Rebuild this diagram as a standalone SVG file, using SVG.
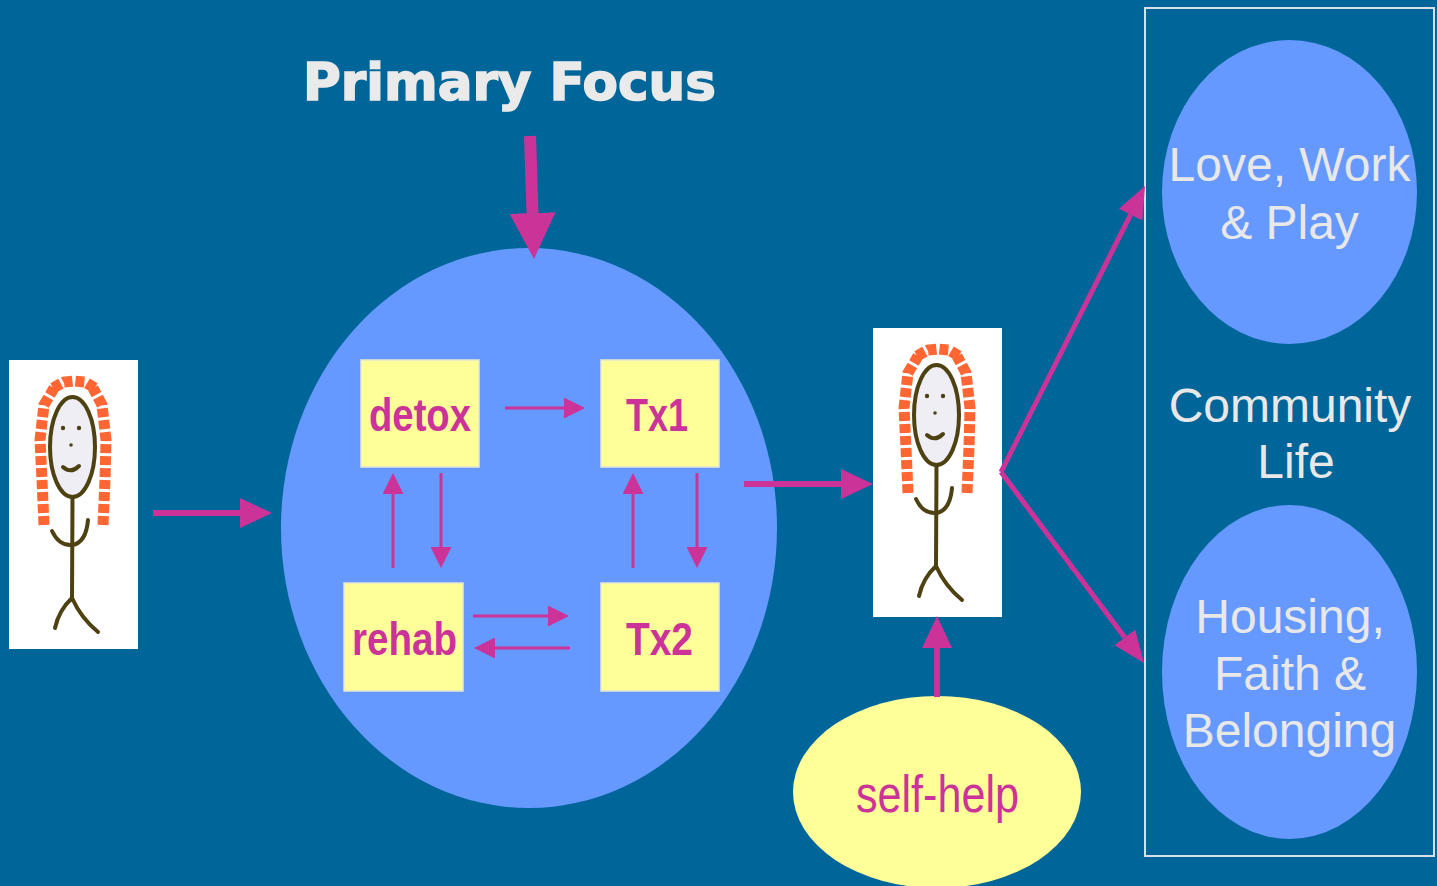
<svg xmlns="http://www.w3.org/2000/svg" xmlns:xlink="http://www.w3.org/1999/xlink" width="1437" height="886" viewBox="0 0 1437 886">
<style>
.conn{stroke:#CC3399;fill:none}
.thin{stroke-width:3}
.thick{stroke-width:6}
.box{fill:#FFFF99;stroke:#E6E6D0;stroke-width:1.5}
.boxtxt{font-family:"Liberation Sans",Arial,sans-serif;font-weight:bold;font-size:47px;fill:#CC3399}
.lt{font-family:"Liberation Sans",Arial,sans-serif;font-size:48px;fill:#E8E8E8;text-anchor:middle}
.ink{stroke:#4F4212;stroke-width:4;fill:none;stroke-linecap:round;stroke-linejoin:round}
.hair{stroke:#FF6633;stroke-width:11;fill:none;stroke-dasharray:9 3;stroke-linecap:butt}
</style>
<defs>
<marker id="ah-s" markerUnits="userSpaceOnUse" viewBox="0 0 21 21" markerWidth="21" markerHeight="21" refX="0" refY="10.5" orient="auto"><path d="M0,0 L21,10.5 L0,21 z" fill="#CC3399"/></marker>
<marker id="ah-b" markerUnits="userSpaceOnUse" viewBox="0 0 32 30" markerWidth="32" markerHeight="30" refX="0" refY="15" orient="auto"><path d="M0,0 L32,15 L0,30 z" fill="#CC3399"/></marker>
<marker id="ah-d" markerUnits="userSpaceOnUse" viewBox="0 0 32 26" markerWidth="32" markerHeight="26" refX="0" refY="13" orient="auto"><path d="M0,0 L32,13 L0,26 z" fill="#CC3399"/></marker>
<marker id="ah-t" markerUnits="userSpaceOnUse" viewBox="0 0 46 46" markerWidth="46" markerHeight="46" refX="0" refY="23" orient="auto"><path d="M0,0 L46,23 L0,46 z" fill="#CC3399"/></marker>
<g id="stick">
<rect x="0" y="0" width="129" height="289" fill="#FFFFFF"/>
<path class="hair" d="M35,165 L33,120 L31,80 L35,45 L45,28"/>
<path class="hair" d="M94,165 L96,120 L97,80 L93,45 L84,28"/>
<path class="hair" d="M44,28 L55,22 L65,21 L76,22 L86,28"/>
<ellipse cx="63.5" cy="87" rx="22.5" ry="50" fill="#EEEEF4" stroke="#4F4212" stroke-width="4"/>
<circle cx="54" cy="68" r="2.2" fill="#4F4212"/>
<circle cx="70" cy="68" r="2.2" fill="#4F4212"/>
<circle cx="62" cy="85" r="1.8" fill="#4F4212"/>
<path class="ink" d="M54,107 Q62,114 70,106"/>
<path class="ink" d="M63.5,137 L63,240"/>
<path class="ink" d="M43,171 Q50,186 63,185 Q77,183 79,160"/>
<path class="ink" d="M63,238 Q50,250 46,268"/>
<path class="ink" d="M63,238 Q72,258 89,272"/>
</g>
</defs>
<rect x="0" y="0" width="1437" height="886" fill="#006699"/>

<g id="title">
<text x="303" y="100" font-family="'DejaVu Sans',Verdana,sans-serif" font-weight="bold" font-size="51" fill="#EAEAEA" stroke="#EAEAEA" stroke-width="1.6" textLength="413" lengthAdjust="spacingAndGlyphs">Primary Focus</text>
</g>

<g id="primary-focus-circle">
<ellipse cx="529" cy="528" rx="248" ry="280" fill="#6699FF"/>
</g>

<g id="detox">
<rect class="box" x="361" y="360" width="118" height="107"/>
<text class="boxtxt" x="369" y="431" textLength="102" lengthAdjust="spacingAndGlyphs">detox</text>
</g>
<g id="tx1">
<rect class="box" x="601" y="360" width="118" height="107"/>
<text class="boxtxt" x="626" y="431" textLength="62" lengthAdjust="spacingAndGlyphs">Tx1</text>
</g>
<g id="rehab">
<rect class="box" x="344" y="583" width="119" height="108"/>
<text class="boxtxt" x="352" y="655" textLength="105" lengthAdjust="spacingAndGlyphs">rehab</text>
</g>
<g id="tx2">
<rect class="box" x="601" y="583" width="118" height="108"/>
<text class="boxtxt" x="626" y="655" textLength="67" lengthAdjust="spacingAndGlyphs">Tx2</text>
</g>

<g id="person-before">
<use xlink:href="#stick" href="#stick" x="9" y="360"/>
</g>
<g id="person-after">
<use xlink:href="#stick" href="#stick" x="873" y="328"/>
</g>

<g id="self-help">
<ellipse cx="937" cy="792" rx="144" ry="96" fill="#FFFF99"/>
<text x="856" y="812" font-family="'Liberation Sans',Arial,sans-serif" font-size="52" fill="#CC3399" textLength="163" lengthAdjust="spacingAndGlyphs">self-help</text>
</g>

<g id="community-life">
<rect x="1145" y="8" width="289" height="848" fill="none" stroke="#D8E0EC" stroke-width="2"/>
<text class="lt" x="1296" y="478">Life</text>
<text class="lt" x="1290" y="422">Community</text>
</g>
<g id="love-work-play">
<ellipse cx="1289.5" cy="192" rx="127.5" ry="152" fill="#6699FF"/>
<text class="lt" x="1289.5" y="181">Love, Work</text>
<text class="lt" x="1289.5" y="239">&amp; Play</text>
</g>
<g id="housing-faith-belonging">
<ellipse cx="1289.5" cy="672" rx="127.5" ry="167" fill="#6699FF"/>
<text class="lt" x="1290" y="633">Housing,</text>
<text class="lt" x="1290" y="690">Faith &amp;</text>
<text class="lt" x="1289.5" y="747">Belonging</text>
</g>

<g id="connectors">
<line class="conn" x1="530" y1="136" x2="532.5" y2="213" stroke-width="12" marker-end="url(#ah-t)"/>
<line class="conn thick" x1="153" y1="513" x2="240" y2="513" marker-end="url(#ah-b)"/>
<line class="conn thick" x1="744" y1="484" x2="841" y2="484" marker-end="url(#ah-b)"/>
<line class="conn thick" x1="937" y1="697" x2="937" y2="648" marker-end="url(#ah-b)"/>
<line class="conn thin" x1="505" y1="408" x2="564" y2="408" marker-end="url(#ah-s)"/>
<line class="conn thin" x1="393" y1="568" x2="393" y2="494" marker-end="url(#ah-s)"/>
<line class="conn thin" x1="441" y1="473" x2="441" y2="547" marker-end="url(#ah-s)"/>
<line class="conn thin" x1="633" y1="568" x2="633" y2="494" marker-end="url(#ah-s)"/>
<line class="conn thin" x1="697" y1="473" x2="697" y2="547" marker-end="url(#ah-s)"/>
<line class="conn thin" x1="473" y1="616" x2="548" y2="616" marker-end="url(#ah-s)"/>
<line class="conn thin" x1="570" y1="648" x2="495" y2="648" marker-end="url(#ah-s)"/>
<line class="conn" stroke-width="5" x1="1001" y1="472" x2="1130.6" y2="214.6" marker-end="url(#ah-d)"/>
<line class="conn" stroke-width="5" x1="1001" y1="472" x2="1124.8" y2="637.4" marker-end="url(#ah-d)"/>
</g>
</svg>
